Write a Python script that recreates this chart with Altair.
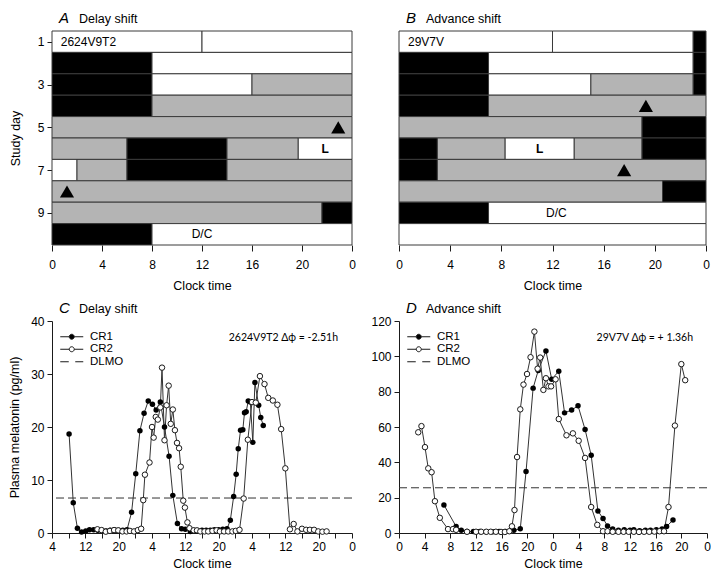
import altair as alt
import pandas as pd

FONT = "Liberation Sans"
NOTE_FONT = "Lato"
INK = "#1a1a1a"
LINE = "#333333"

STATES = ["dark", "dim", "light"]
STATE_COLORS = ["#000000", "#b4b4b4", "#ffffff"]
HOUR_TICKS = [0, 4, 8, 12, 16, 20, 24]
DAY_TICKS = [1, 3, 5, 7, 9]

# ---------------- Panel A: delay shift schedule (study day x clock hour) ----------------
a_day = [1, 1, 2, 2, 3, 3, 3, 4, 4, 5, 6, 6, 6, 6, 7, 7, 7, 7, 8, 9, 9, 10, 10]
a_start = [0, 12, 0, 8, 0, 8, 16, 0, 8, 0, 0, 6, 14, 19.7, 0, 2, 6, 14, 0, 0, 21.6, 0, 8]
a_end = [12, 24, 8, 24, 8, 16, 24, 8, 24, 24, 6, 14, 19.7, 24, 2, 6, 14, 24, 24, 21.6, 24, 8, 24]
a_state = ["light", "light", "dark", "light", "dark", "light", "dim", "dark", "dim", "dim",
           "dim", "dark", "dim", "light", "light", "dim", "dark", "dim", "dim", "dim", "dark",
           "dark", "light"]
a_labels = ["2624V9T2", "L", "D/C"]
a_label_day = [1, 6, 10]
a_label_hour = [0.7, 21.85, 12.0]
a_marker_day = [5, 8]
a_marker_hour = [22.9, 1.2]

# ---------------- Panel B: advance shift schedule ----------------
b_day = [1, 1, 1, 2, 2, 2, 3, 3, 3, 3, 4, 4, 5, 5, 6, 6, 6, 6, 6, 7, 7, 8, 8, 9, 9, 10]
b_start = [0, 12, 23, 0, 7, 23, 0, 7, 15, 23, 0, 7, 0, 19, 0, 3, 8.3, 13.7, 19, 0, 3, 0, 20.6, 0, 7, 0]
b_end = [12, 23, 24, 7, 23, 24, 7, 15, 23, 24, 7, 24, 19, 24, 3, 8.3, 13.7, 19, 24, 3, 24, 20.6, 24, 7, 24, 24]
b_state = ["light", "light", "dark", "dark", "light", "dark", "dark", "light", "dim", "dark",
           "dark", "dim", "dim", "dark", "dark", "dim", "light", "dim", "dark", "dark", "dim",
           "dim", "dark", "dark", "light", "light"]
b_labels = ["29V7V", "L", "D/C"]
b_label_day = [1, 6, 9]
b_label_hour = [0.7, 11.0, 12.3]
b_marker_day = [4, 7]
b_marker_hour = [19.3, 17.6]

# ---------------- Panel C: delay shift melatonin (hours since 04:00) ----------------
c_cr1_t = [4.1, 5.1, 6.1, 7.1, 8.1, 9.0, 10.0, 11.0, 12.0, 13.0, 14.0, 15.0, 16.0, 17.0, 18.0,
           19.1, 20.1, 21.1, 22.1, 23.1, 24.1, 25.0, 26.0, 27.0, 28.1, 29.0, 30.1, 31.1, 32.0, 33.2,
           34.0, 35.0, 36.0, 37.0, 38.0, 39.0, 40.0, 41.0, 42.0,
           42.8, 43.6, 44.2, 44.7, 45.25, 45.8, 46.2, 46.6, 47.1, 47.6, 48.2, 48.7, 49.6, 50.1, 50.7]
c_cr1_v = [18.7, 5.7, 0.9, 0.2, 0.4, 0.6, 0.6, 0.5, 0.5, 0.4, 0.5, 0.6, 0.5, 0.5, 0.6,
           3.9, 11.2, 19.3, 22.6, 24.9, 24.3, 23.2, 24.7, 20.0, 14.5, 7.1, 1.8, 0.8, 0.7, 0.3,
           0.5, 0.4, 0.5, 0.5, 0.5, 0.6, 0.6, 0.7, 0.8,
           2.4, 6.9, 11.1, 15.9, 19.4, 19.5, 22.7, 22.9, 24.9, 24.7, 17.1, 28.4, 24.1, 21.8, 20.3]
c_cr2_t = [10.9, 11.9, 12.9, 13.9, 14.9, 15.9, 16.9, 17.9, 18.7, 19.7, 20.6, 21.4,
           21.9, 22.3, 23.4, 24.0, 24.4, 24.9, 25.4, 26.0, 26.4, 27.0, 27.5, 28.0, 28.5, 29.0,
           29.5, 30.0, 30.5, 30.9, 31.5, 31.9, 32.5, 33.0,
           34.0, 34.8, 35.6, 36.6, 37.5, 38.5, 39.5, 40.3, 41.3, 42.3, 43.3, 44.1, 45.0,
           46.0, 47.0, 48.0, 48.9, 49.9, 51.0, 51.9, 53.0, 54.1, 55.0, 56.0, 57.1, 58.0, 58.9,
           60.0, 61.0, 61.9, 62.9, 63.9, 64.9, 65.9]
c_cr2_v = [0.7, 0.55, 0.25, 0.4, 0.55, 0.5, 0.3, 0.3, 0.4, 0.3, 0.55, 0.8,
           6.2, 11.0, 13.3, 20.0, 18.0, 21.9, 21.4, 23.7, 31.2, 17.5, 24.1, 27.8, 20.6, 23.3,
           19.4, 17.0, 16.0, 12.5, 6.1, 4.8, 2.0, 0.9,
           0.5, 0.5, 0.3, 0.3, 0.3, 0.4, 0.5, 0.3, 0.3, 0.3, 0.3, 0.4, 0.6,
           6.5, 17.6, 24.7, 24.6, 29.6, 28.1, 25.5, 25.0, 24.2, 19.6, 12.2, 0.7, 1.7, 0.3,
           0.8, 0.6, 0.6, 0.6, 0.3, 0.25, 0.3]
c_dlmo = 6.6
c_note = "2624V9T2 \u0394\u03d5 = -2.51h"

# ---------------- Panel D: advance shift melatonin (hours since 00:00) ----------------
d_cr1_t = [7.0, 8.9, 9.7, 10.6, 11.6, 12.6, 13.6, 14.6, 15.6, 16.6,
           17.9, 18.9, 19.8, 20.9, 21.7, 22.9, 23.8, 24.9, 25.8, 26.9,
           27.9, 29.0, 29.95, 31.0, 31.8, 32.5, 33.3, 34.2, 35.1, 36.0,
           36.6, 37.5, 38.4, 39.2, 40.1, 41.0, 41.7, 42.7]
d_cr1_v = [15.9, 3.7, 1.5, 0.8, 0.8, 0.8, 0.7, 0.7, 0.8, 0.8,
           1.5, 2.4, 34.8, 82.0, 92.0, 103.0, 87.0, 91.6, 68.0, 69.6,
           72.0, 58.6, 44.0, 12.5, 8.2, 4.0, 2.2, 1.5, 1.8, 1.5,
           1.8, 1.3, 1.5, 1.5, 1.8, 2.2, 3.7, 7.3]
d_cr2_t = [3.0, 3.5, 4.05, 4.56, 5.08, 5.6, 6.36, 7.64, 8.4, 8.9,
           10.6, 12.0, 12.8, 13.6, 14.3, 15.1, 15.9, 16.5, 17.2, 17.6,
           18.0, 18.4, 18.9, 19.4, 19.95, 20.5, 21.1, 21.6, 22.0, 22.5,
           22.9, 23.3, 23.7, 24.4, 24.9, 26.1, 27.1, 28.0, 29.0, 29.95,
           30.9, 31.8, 32.5, 33.3, 34.2, 35.0, 35.8, 36.6, 37.4, 38.2,
           39.0, 39.8, 40.6, 41.3, 42.0, 43.0, 44.0, 44.6]
d_cr2_v = [57.0, 60.5, 48.6, 36.6, 34.4, 18.0, 8.6, 2.2, 2.2, 1.8,
           0.7, 0.7, 0.7, 0.7, 0.7, 0.7, 0.6, 0.6, 1.0, 3.8,
           13.0, 43.0, 70.0, 84.0, 90.0, 99.5, 114.0, 93.0, 99.3, 81.0,
           87.6, 83.0, 83.0, 87.0, 64.5, 55.3, 56.4, 52.2, 42.5, 14.7,
           4.6, 1.0, 1.0, 0.7, 0.7, 0.7, 0.7, 0.7, 0.6, 0.7,
           0.7, 0.8, 1.0, 1.0, 14.7, 60.8, 95.6, 86.5]
d_dlmo = 25.6
d_note = "29V7V \u0394\u03d5 = + 1.36h"

legend_labels = ["CR1", "CR2", "DLMO"]
legend_fills = ["#000000", "#ffffff", "#ffffff"]
legend_strokes = [INK, INK, INK]
LEG_CIRCLE = "M-0.5,0A0.5,0.5,0,1,1,0.5,0A0.5,0.5,0,1,1,-0.5,0Z"
legend_paths = ["M-2.3,0L-0.5,0M0.5,0L2.3,0" + LEG_CIRCLE,
                "M-2.3,0L-0.5,0M0.5,0L2.3,0" + LEG_CIRCLE,
                "M-2.3,0L-0.6,0M0.7,0L2.3,0"]


def heading(letter, title):
    df = pd.DataFrame({"letter": [letter], "title": [title]})
    let = alt.Chart(df).mark_text(align="left", baseline="alphabetic", font=FONT, fontSize=15,
                                  fontStyle="italic", color="black").encode(
        x=alt.value(7), y=alt.value(-8), text="letter:N")
    tit = alt.Chart(df).mark_text(align="left", baseline="alphabetic", font=FONT, fontSize=12.5,
                                  color="black").encode(
        x=alt.value(27), y=alt.value(-8), text="title:N")
    return [let, tit]


def schedule_panel(days, starts, ends, states, labels, label_day, label_hour,
                   marker_day, marker_hour, letter, title, width, height, show_y):
    seg = pd.DataFrame({"day": days, "start": starts, "end": ends, "state": states})
    seg["y0"] = seg["day"] - 0.5
    seg["y1"] = seg["day"] + 0.5
    xs = alt.Scale(domain=[0, 24], nice=False, zero=False)
    ys = alt.Scale(domain=[0.5, 10.5], reverse=True, nice=False, zero=False)
    xaxis = alt.Axis(values=HOUR_TICKS, labelExpr="datum.value == 24 ? '0' : datum.label",
                     title="Clock time", domain=False, grid=False, tickSize=6, labelPadding=8,
                     titlePadding=9, labelFlush=False, labelOverlap=False)
    if show_y:
        yaxis = alt.Axis(values=DAY_TICKS, title="Study day", domain=False, grid=False,
                         tickSize=5, labelPadding=3, titlePadding=15, labelFlush=False)
    else:
        yaxis = None

    def X(field):
        return alt.X(field, scale=xs, axis=xaxis)

    def Y(field):
        return alt.Y(field, scale=ys, axis=yaxis)

    rects = alt.Chart(seg).mark_rect(stroke="#3a3a3a", strokeWidth=1).encode(
        x=X("start:Q"), x2="end:Q", y=Y("y0:Q"), y2="y1:Q",
        fill=alt.Fill("state:N", scale=alt.Scale(domain=STATES, range=STATE_COLORS), legend=None),
    )
    labs = pd.DataFrame({"text": labels, "day": label_day, "hour": label_hour,
                         "kind": ["id", "lab", "dc"]})
    id_txt = alt.Chart(labs).transform_filter("datum.kind == 'id'").mark_text(
        align="left", baseline="middle", font=FONT, fontSize=12, color="black").encode(
        x=X("hour:Q"), y=Y("day:Q"), text="text:N")
    l_txt = alt.Chart(labs).transform_filter("datum.kind == 'lab'").mark_text(
        align="center", baseline="middle", font=FONT, fontSize=12, fontWeight="bold",
        color="black").encode(x=X("hour:Q"), y=Y("day:Q"), text="text:N")
    dc_txt = alt.Chart(labs).transform_filter("datum.kind == 'dc'").mark_text(
        align="center", baseline="middle", font=FONT, fontSize=12, color="black").encode(
        x=X("hour:Q"), y=Y("day:Q"), text="text:N")
    mk = pd.DataFrame({"day": marker_day, "hour": marker_hour})
    tri = alt.Chart(mk).mark_point(shape="triangle-up", filled=True, size=200, color="black",
                                   opacity=1).encode(x=X("hour:Q"), y=Y("day:Q"))
    layers = [rects, id_txt, l_txt, dc_txt, tri] + heading(letter, title)
    return alt.layer(*layers).properties(width=width, height=height)


def melatonin_panel(t1, v1, t2, v2, dlmo, xmax, ymax, ystep, label_expr, ytitle,
                    letter, title, note, width, height):
    d1 = pd.DataFrame({"t": t1, "v": v1})
    d2 = pd.DataFrame({"t": t2, "v": v2})
    xs = alt.Scale(domain=[0, xmax], nice=False, zero=False)
    ys = alt.Scale(domain=[0, ymax], nice=False)
    xaxis = alt.Axis(values=list(range(0, xmax + 1, 4)), labelExpr=label_expr, title="Clock time",
                     grid=False, tickSize=5, labelPadding=3, titlePadding=5, labelFlush=False,
                     labelOverlap=False)
    yaxis = alt.Axis(values=list(range(0, ymax + 1, ystep)), title=ytitle, grid=False,
                     tickSize=5, labelPadding=3, titlePadding=9, labelFlush=False,
                     labelOverlap=False)
    X = alt.X("t:Q", scale=xs, axis=xaxis)
    Y = alt.Y("v:Q", scale=ys, axis=yaxis)
    rule = alt.Chart(pd.DataFrame({"v": [dlmo]})).mark_rule(
        color=LINE, strokeWidth=1, strokeDash=[8, 4]).encode(y=Y)
    line1 = alt.Chart(d1).mark_line(color=LINE, strokeWidth=1).encode(x=X, y=Y)
    line2 = alt.Chart(d2).mark_line(color=LINE, strokeWidth=1).encode(x=X, y=Y)
    pts1 = alt.Chart(d1).mark_circle(size=30, color="black", opacity=1).encode(x=X, y=Y)
    pts2 = alt.Chart(d2).mark_circle(size=30, fill="white", stroke=INK, strokeWidth=1,
                                     opacity=1).encode(x=X, y=Y)
    leg = alt.Legend(orient="none", legendX=14, legendY=10, title=None, labelFont=FONT,
                     labelFontSize=11.5, labelColor="black", labelOffset=12.5, rowPadding=-0.5,
                     padding=0, symbolSize=100, symbolStrokeWidth=1, symbolStrokeColor=INK,
                     symbolOpacity=1)
    legend_layer = alt.Chart(pd.DataFrame({"series": legend_labels})).mark_point(
        size=100, clip=True, strokeWidth=1, opacity=1).encode(
        x=alt.value(-500), y=alt.value(-500),
        shape=alt.Shape("series:N", scale=alt.Scale(domain=legend_labels, range=legend_paths),
                        legend=leg),
        fill=alt.Fill("series:N", scale=alt.Scale(domain=legend_labels, range=legend_fills),
                      legend=leg),
        stroke=alt.Stroke("series:N", scale=alt.Scale(domain=legend_labels, range=legend_strokes),
                          legend=leg),
    )
    note_layer = alt.Chart(pd.DataFrame({"text": [note]})).mark_text(
        align="right", baseline="middle", font=NOTE_FONT, fontSize=10.5, color="black").encode(
        x=alt.value(width - 14), y=alt.value(17), text="text:N")
    layers = [rule, line1, line2, pts1, pts2, legend_layer, note_layer] + heading(letter, title)
    return alt.layer(*layers).properties(width=width, height=height)


panel_a = schedule_panel(a_day, a_start, a_end, a_state, a_labels, a_label_day, a_label_hour,
                         a_marker_day, a_marker_hour, "A", "Delay shift", 300, 214, True)
panel_b = schedule_panel(b_day, b_start, b_end, b_state, b_labels, b_label_day, b_label_hour,
                         b_marker_day, b_marker_hour, "B", "Advance shift", 307, 214, False)
panel_c = melatonin_panel(c_cr1_t, c_cr1_v, c_cr2_t, c_cr2_v, c_dlmo, 72, 40, 10,
                          "datum.value == 72 ? '0' : (datum.value % 8 == 0 ? '' + ((datum.value + 4) % 24) : '')",
                          "Plasma melatonin (pg/ml)", "C", "Delay shift", c_note, 300, 212)
panel_d = melatonin_panel(d_cr1_t, d_cr1_v, d_cr2_t, d_cr2_v, d_dlmo, 48, 120, 20,
                          "'' + (datum.value % 24)", None, "D", "Advance shift", d_note, 308, 212)

chart = alt.concat(panel_a, panel_b, panel_c, panel_d, columns=2,
                   spacing={"row": 76, "column": 47}, bounds="flush", align="none").resolve_scale(
    fill="independent", shape="independent", stroke="independent").resolve_legend(
    fill="independent", shape="independent", stroke="independent").properties(
    padding={"top": 3, "left": 0, "right": 0, "bottom": 0}).configure_view(
    stroke=None).configure_axis(
    labelFont=FONT, labelFontSize=12, labelColor="black", titleFont=FONT, titleFontSize=12.5,
    titleFontWeight="normal", titleColor="black", tickColor=INK, domainColor=INK, grid=False)

chart.save("out.html", embed_options={"renderer": "svg", "actions": False})
